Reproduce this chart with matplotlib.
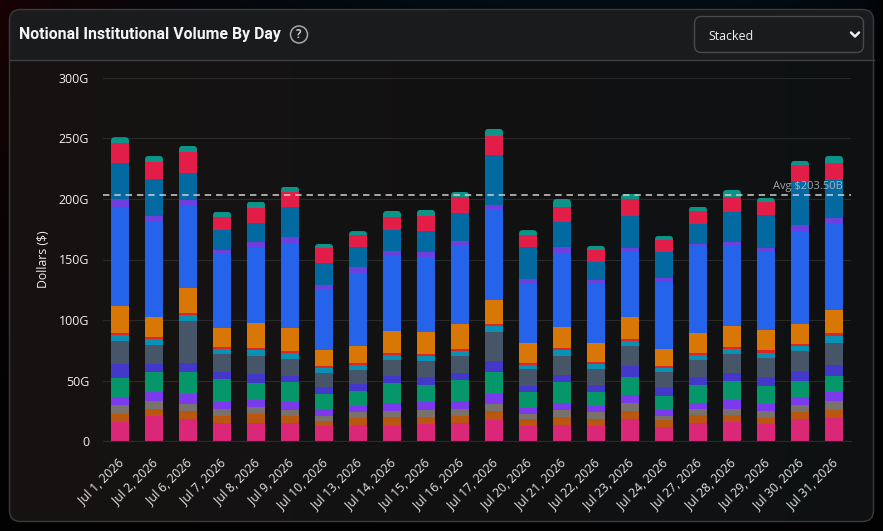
#!/usr/bin/env python3

import numpy as np
from matplotlib import pyplot as plt
from matplotlib.patches import Circle, FancyBboxPatch
from matplotlib.transforms import ScaledTranslation

plt.rcParams['font.family'] = ['Open Sans', 'DejaVu Sans']

days = ['Jul 1, 2026', 'Jul 2, 2026', 'Jul 6, 2026', 'Jul 7, 2026', 'Jul 8, 2026', 'Jul 9, 2026',
        'Jul 10, 2026', 'Jul 13, 2026', 'Jul 14, 2026', 'Jul 15, 2026', 'Jul 16, 2026', 'Jul 17, 2026',
        'Jul 20, 2026', 'Jul 21, 2026', 'Jul 22, 2026', 'Jul 23, 2026', 'Jul 24, 2026', 'Jul 27, 2026',
        'Jul 28, 2026', 'Jul 29, 2026', 'Jul 30, 2026', 'Jul 31, 2026']

# values in billions, bottom of the stack first
pink = [16.0, 20.7, 18.2, 14.9, 14.9, 14.9, 12.4, 13.2, 12.4, 14.1, 14.9, 17.4, 12.4, 13.2, 12.4, 18.2, 11.6, 14.9, 15.7, 14.1, 18.2, 19.0]
brown = [6.3, 5.8, 6.6, 5.8, 7.4, 5.8, 3.9, 5.8, 7.4, 5.8, 5.8, 7.4, 5.8, 6.6, 5.8, 6.6, 5.8, 6.6, 5.8, 5.0, 5.8, 6.6]
gray = [7.4, 6.6, 5.8, 5.8, 5.8, 5.0, 4.4, 5.0, 5.0, 5.8, 5.8, 5.8, 4.4, 5.8, 5.8, 6.6, 3.3, 5.0, 5.0, 5.8, 5.8, 7.4]
violet = [6.3, 7.4, 8.3, 5.8, 5.8, 6.9, 5.8, 5.0, 6.3, 6.6, 6.6, 8.3, 4.7, 5.8, 5.0, 6.6, 5.0, 5.0, 7.4, 5.8, 6.6, 7.4]
green = [15.7, 16.5, 18.2, 18.7, 14.1, 16.3, 12.4, 12.4, 16.8, 14.1, 17.4, 18.2, 13.2, 17.4, 11.6, 14.9, 11.6, 14.9, 15.7, 14.9, 13.2, 13.2]
indigo = [11.6, 6.6, 7.7, 6.1, 7.2, 5.0, 5.8, 5.5, 5.8, 6.6, 5.8, 9.1, 5.2, 5.8, 5.8, 9.1, 7.4, 6.6, 6.6, 7.2, 8.3, 9.1]
slate = [19.3, 15.7, 34.4, 14.9, 15.2, 14.1, 11.6, 11.8, 13.2, 13.2, 14.1, 24.0, 13.8, 15.7, 13.2, 16.5, 12.4, 14.1, 15.7, 16.0, 16.5, 18.2]
cyan = [5.0, 4.7, 4.7, 4.1, 5.0, 5.0, 4.1, 4.1, 3.9, 4.1, 4.1, 5.0, 3.3, 5.0, 4.1, 4.1, 3.6, 3.9, 4.1, 3.9, 4.1, 5.8]
red = [1.4, 1.7, 1.7, 1.4, 1.7, 1.7, 1.4, 1.4, 1.7, 1.7, 1.7, 1.7, 1.7, 1.7, 1.4, 1.7, 1.4, 1.7, 1.7, 2.2, 1.7, 2.5]
orange = [22.6, 16.8, 20.9, 16.0, 20.7, 19.0, 13.5, 14.3, 18.7, 18.2, 20.7, 19.8, 16.5, 17.4, 16.0, 18.2, 14.1, 16.8, 17.4, 17.1, 16.5, 19.0]
blue = [81.3, 78.8, 67.8, 61.2, 62.0, 69.4, 50.1, 60.6, 61.7, 61.7, 65.3, 75.2, 48.8, 61.2, 48.8, 53.7, 55.4, 71.9, 66.1, 64.7, 76.9, 72.2]
violet2 = [7.2, 4.7, 5.0, 3.3, 5.0, 5.8, 3.6, 4.7, 4.1, 4.4, 3.3, 3.3, 4.1, 5.0, 3.3, 3.3, 3.3, 1.1, 3.3, 3.0, 5.0, 3.9]
sea = [29.5, 30.3, 22.0, 16.5, 15.4, 24.5, 17.9, 16.5, 17.4, 17.1, 23.1, 41.3, 26.4, 20.7, 14.9, 26.4, 21.5, 17.1, 24.8, 27.3, 36.4, 31.4]
crimson = [16.5, 14.1, 17.4, 11.0, 12.7, 12.7, 12.4, 9.9, 10.7, 12.7, 13.2, 15.7, 9.9, 12.4, 9.9, 14.3, 9.6, 10.5, 12.4, 10.7, 13.2, 13.8]
teal = [5.0, 5.2, 5.2, 3.9, 5.0, 4.1, 3.6, 3.3, 5.0, 5.0, 4.1, 5.8, 4.1, 6.3, 3.3, 3.9, 3.6, 3.6, 5.8, 3.3, 3.3, 6.1]

series = [pink, brown, gray, violet, green, indigo, slate, cyan, red, orange, blue, violet2, sea, crimson, teal]
colors = ['#db2777', '#b9560f', '#78716c', '#7c3aed', '#059669', '#4338ca', '#475569', '#0891b2',
          '#dc2626', '#d97706', '#2563eb', '#6d3fe0', '#0369a1', '#e11d48', '#0d9488']

y_ticks = [0, 50, 100, 150, 200, 250, 300]
y_labels = ['0', '50G', '100G', '150G', '200G', '250G', '300G']
avg = 203.5

W, H = 883, 531
fig = plt.figure(figsize=(W / 100, H / 100), dpi=100)

# page and card, pixel coordinates
bg = fig.add_axes([0, 0, 1, 1])
bg.set_xlim(0, W)
bg.set_ylim(H, 0)
bg.axis('off')
page = np.zeros((H, W, 3))
xx, yy = np.meshgrid(np.linspace(0, 1, W), np.linspace(0, 1, H))
page[..., 0] = 0.09 * (1 - xx) ** 6 * (1 - yy) ** 2 + 0.008
page[..., 1] = 0.10 * xx * (1 - yy) ** 4 * (1 - xx) ** 0.4 + 0.008
page[..., 2] = 0.16 * xx * (1 - yy) ** 3 * (1 - xx) ** 0.4 + 0.012
bg.imshow(page, extent=(0, W, H, 0), aspect='auto', zorder=0)

card_grad = np.zeros((H, W, 3))
card_grad[..., 0] = 0.09 - 0.035 * xx
card_grad[..., 1] = 0.074 - 0.008 * xx
card_grad[..., 2] = 0.074 - 0.002 * xx
card_img = bg.imshow(card_grad, extent=(0, W, H, 0), aspect='auto', zorder=1)
card = FancyBboxPatch((9.5, 9.5), 864, 512, boxstyle='round,pad=0,rounding_size=11',
                      fc='none', ec='#3b3b3d', lw=1, zorder=3)
bg.add_patch(card)
card_img.set_clip_path(card)
header = FancyBboxPatch((9.5, 9.5), 864, 50, boxstyle='square,pad=0', fc='#1a1b1c', ec='none', zorder=2)
bg.add_patch(header)
header.set_clip_path(card)
bg.plot([9.5, 873.5], [59.5, 59.5], color='#3f3f41', lw=1, zorder=3)
bg.set_xlim(0, W)
bg.set_ylim(H, 0)

bg.text(19, 35, 'Notional Institutional Volume By Day', color='#f4f4f5', fontsize=11.4,
        fontweight='bold', family='Roboto', va='center', ha='left', zorder=4)
bg.add_patch(Circle((299, 34.5), 8.5, fc='none', ec='#a8a8aa', lw=1.1, zorder=4))
bg.text(299, 35, '?', color='#c4c4c6', fontsize=8.5, fontweight='bold', va='center', ha='center', zorder=4)

bg.add_patch(FancyBboxPatch((694.5, 16.5), 169, 36, boxstyle='round,pad=0,rounding_size=7',
                            fc='#1a1b1c', ec='#4a4a4c', lw=1, zorder=4))
bg.text(708, 36, 'Stacked', color='#f1f1f1', fontsize=8.9, va='center', ha='left', zorder=5)
bg.plot([851, 855, 859], [32.5, 36.5, 32.5], color='#f1f1f1', lw=1.8, zorder=5, solid_capstyle='round')

# chart axes
ax = fig.add_axes([103 / W, 1 - 441 / H, 748 / W, 363 / H])
ax.patch.set_alpha(0)
x = np.arange(len(days))
bar_w = 18 / 34
bottom = np.zeros(len(days))
for values, color in zip(series, colors):
    bars = ax.bar(x, values, bar_w, bottom=bottom, color=color, zorder=2, linewidth=0)
    if values is teal:
        top_bars = bars
    bottom += np.array(values)
totals = bottom

ax.set_xlim(-0.5, len(days) - 0.5)
ax.set_ylim(0, 300)

# only the top of each stack is rounded
for rect, bx, total in zip(top_bars, x, totals):
    clip = FancyBboxPatch((bx - bar_w / 2, 0), bar_w, total,
                          boxstyle='round,pad=0,rounding_size=0.11', mutation_aspect=300 / 363 * 34,
                          transform=ax.transData, fc='none', ec='none')
    rect.set_clip_path(clip)

ax.grid(axis='y', color='#2a2a2b', lw=0.8, zorder=1)
ax.set_axisbelow(True)
for side in ['top', 'right', 'left']:
    ax.spines[side].set_visible(False)
ax.spines['bottom'].set_color('#2a2a2b')
ax.spines['bottom'].set_linewidth(0.8)

ax.set_yticks(y_ticks)
ax.set_yticklabels(y_labels)
ax.tick_params(axis='y', length=0, pad=10, labelcolor='#f0f0f0', labelsize=9)
ax.set_xticks(x)
ax.set_xticklabels(days, rotation=45, ha='right', va='top', rotation_mode='anchor')
ax.tick_params(axis='x', length=0, pad=11, labelcolor='#e6e6e6', labelsize=8.8)
for lab in ax.get_xticklabels():
    lab.set_transform(lab.get_transform() + ScaledTranslation(-3 / 100, 0, fig.dpi_scale_trans))
ax.set_ylabel('Dollars ($)', color='#f0f0f0', fontsize=8.8)
ax.yaxis.set_label_coords((50 - 103) / 748, 0.5)

ax.axhline(avg, color='#d0d0d0', lw=1.1, dashes=(4.2, 3.2), zorder=4)
ax.text(0.989, avg + 2.5, 'Avg $203.50B', transform=ax.get_yaxis_transform(), color='#c8c8ca',
        alpha=0.8, fontsize=8, ha='right', va='bottom', zorder=5)

fig.savefig('out.png', dpi=100, facecolor='black')
